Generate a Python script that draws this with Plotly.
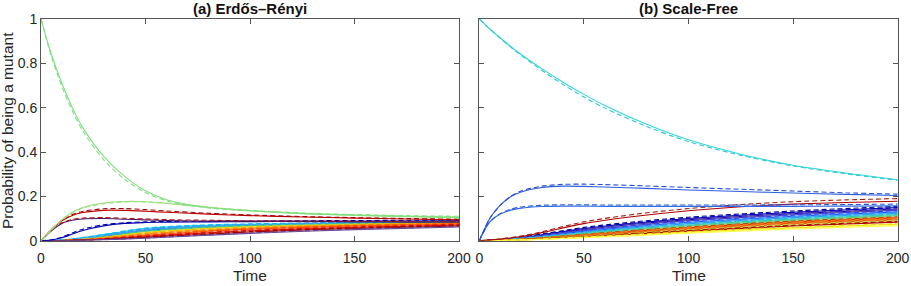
import plotly.graph_objects as go

# ---------------- time grids ----------------
T_FINE = [0, 5, 10, 15, 20, 30, 40, 50, 60, 80, 100, 125, 150, 175, 200]
T_MID = [0, 10, 25, 50, 75, 100, 125, 150, 175, 200]
T_COARSE = [0, 10, 25, 50, 75, 100, 150, 200]

X_TICKS = [0, 50, 100, 150, 200]
Y_TICKS = [0, 0.2, 0.4, 0.6, 0.8, 1]
Y_TICK_LABELS = ["0", "0.2", "0.4", "0.6", "0.8", "1"]

# ---------------- (a) Erdős–Rényi: highlighted nodes (T_FINE) ----------------
ER_DECAY_THEORY = [1.0, 0.84, 0.71, 0.60, 0.51, 0.38, 0.29, 0.225, 0.185, 0.15, 0.135, 0.122, 0.115, 0.11, 0.105]
ER_DECAY_SIM = [1.0, 0.83, 0.695, 0.585, 0.495, 0.365, 0.277, 0.217, 0.18, 0.148, 0.135, 0.124, 0.118, 0.113, 0.11]
ER_HUMPG_THEORY = [0, 0.05, 0.095, 0.128, 0.15, 0.17, 0.177, 0.176, 0.169, 0.151, 0.136, 0.123, 0.114, 0.108, 0.103]
ER_HUMPG_SIM = [0, 0.048, 0.092, 0.125, 0.147, 0.167, 0.175, 0.175, 0.168, 0.151, 0.137, 0.125, 0.117, 0.111, 0.106]
ER_HUMPR_THEORY = [0, 0.05, 0.09, 0.114, 0.127, 0.137, 0.137, 0.133, 0.128, 0.12, 0.113, 0.107, 0.102, 0.098, 0.094]
ER_HUMPR_SIM = [0, 0.05, 0.092, 0.118, 0.132, 0.144, 0.145, 0.14, 0.134, 0.124, 0.116, 0.109, 0.104, 0.1, 0.097]
ER_HUMPD_THEORY = [0, 0.045, 0.078, 0.092, 0.098, 0.1, 0.097, 0.094, 0.091, 0.088, 0.087, 0.086, 0.085, 0.084, 0.083]
ER_HUMPD_SIM = [0, 0.047, 0.081, 0.096, 0.102, 0.104, 0.101, 0.098, 0.095, 0.092, 0.09, 0.089, 0.088, 0.087, 0.086]
ER_BLUE_THEORY = [0, 0.003, 0.013, 0.03, 0.046, 0.067, 0.078, 0.082, 0.084, 0.085, 0.086, 0.087, 0.088, 0.089, 0.09]
ER_BLUE_SIM = [0, 0.004, 0.016, 0.035, 0.052, 0.072, 0.081, 0.085, 0.087, 0.088, 0.089, 0.09, 0.091, 0.092, 0.093]

# ---------------- (a) Erdős–Rényi: remaining nodes (T_COARSE) ----------------
ER_B1_THEORY = [0, 0.002, 0.014, 0.045, 0.06, 0.07, 0.08, 0.086]
ER_B1_SIM = [0, 0.003, 0.016, 0.048, 0.063, 0.072, 0.082, 0.089]
ER_B2_THEORY = [0, 0.003, 0.02, 0.055, 0.068, 0.074, 0.08, 0.084]
ER_B2_SIM = [0, 0.003, 0.021, 0.057, 0.07, 0.076, 0.082, 0.087]
ER_B3_THEORY = [0, 0.002, 0.015, 0.05, 0.064, 0.071, 0.078, 0.083]
ER_B3_SIM = [0, 0.002, 0.016, 0.052, 0.066, 0.073, 0.08, 0.085]
ER_B4_THEORY = [0, 0.002, 0.012, 0.042, 0.058, 0.067, 0.076, 0.082]
ER_B4_SIM = [0, 0.002, 0.013, 0.044, 0.06, 0.069, 0.078, 0.084]
ER_B5_THEORY = [0, 0.001, 0.01, 0.036, 0.052, 0.062, 0.073, 0.08]
ER_B5_SIM = [0, 0.001, 0.011, 0.038, 0.054, 0.064, 0.075, 0.082]
ER_B6_THEORY = [0, 0.001, 0.008, 0.03, 0.046, 0.057, 0.07, 0.078]
ER_B6_SIM = [0, 0.001, 0.009, 0.032, 0.048, 0.059, 0.072, 0.08]
ER_B7_THEORY = [0, 0.001, 0.006, 0.024, 0.04, 0.052, 0.066, 0.075]
ER_B7_SIM = [0, 0.001, 0.007, 0.026, 0.042, 0.054, 0.068, 0.077]
ER_B8_THEORY = [0, 0.001, 0.005, 0.019, 0.033, 0.045, 0.06, 0.071]
ER_B8_SIM = [0, 0.001, 0.006, 0.021, 0.035, 0.047, 0.062, 0.073]
ER_B9_THEORY = [0, 0.0, 0.004, 0.015, 0.027, 0.039, 0.055, 0.066]
ER_B9_SIM = [0, 0.0, 0.005, 0.017, 0.029, 0.041, 0.057, 0.068]
ER_B10_THEORY = [0, 0.0, 0.003, 0.011, 0.022, 0.033, 0.05, 0.062]
ER_B10_SIM = [0, 0.0, 0.003, 0.012, 0.024, 0.035, 0.052, 0.064]

# ---------------- (b) Scale-Free: highlighted nodes (T_FINE) ----------------
SF_DECAY_THEORY = [1.0, 0.955, 0.915, 0.876, 0.84, 0.775, 0.715, 0.66, 0.61, 0.525, 0.455, 0.39, 0.34, 0.305, 0.275]
SF_DECAY_SIM = [1.0, 0.955, 0.913, 0.873, 0.836, 0.768, 0.705, 0.648, 0.598, 0.515, 0.447, 0.385, 0.337, 0.302, 0.272]
SF_HUB1_THEORY = [0, 0.10, 0.16, 0.198, 0.22, 0.24, 0.246, 0.245, 0.242, 0.236, 0.229, 0.222, 0.215, 0.209, 0.204]
SF_HUB1_SIM = [0, 0.10, 0.16, 0.2, 0.224, 0.246, 0.254, 0.255, 0.253, 0.247, 0.24, 0.232, 0.224, 0.216, 0.21]
SF_HUB2_THEORY = [0, 0.085, 0.12, 0.138, 0.147, 0.154, 0.156, 0.156, 0.155, 0.155, 0.155, 0.155, 0.155, 0.156, 0.157]
SF_HUB2_SIM = [0, 0.085, 0.122, 0.142, 0.152, 0.16, 0.162, 0.162, 0.161, 0.161, 0.161, 0.161, 0.162, 0.163, 0.165]

# (b) dark red node (T_MID)
SF_RED_THEORY = [0, 0.007, 0.027, 0.077, 0.11, 0.135, 0.153, 0.165, 0.172, 0.178]
SF_RED_SIM = [0, 0.008, 0.03, 0.085, 0.12, 0.145, 0.163, 0.176, 0.184, 0.19]

# ---------------- (b) Scale-Free: remaining nodes (T_COARSE) ----------------
SF_B1_THEORY = [0, 0.004, 0.02, 0.055, 0.08, 0.1, 0.128, 0.15]
SF_B1_SIM = [0, 0.005, 0.023, 0.06, 0.086, 0.106, 0.134, 0.155]
SF_B2_THEORY = [0, 0.004, 0.018, 0.05, 0.075, 0.095, 0.122, 0.143]
SF_B2_SIM = [0, 0.005, 0.021, 0.055, 0.081, 0.101, 0.128, 0.148]
SF_B3_THEORY = [0, 0.003, 0.016, 0.046, 0.07, 0.09, 0.117, 0.138]
SF_B3_SIM = [0, 0.004, 0.019, 0.051, 0.076, 0.096, 0.123, 0.143]
SF_B4_THEORY = [0, 0.003, 0.015, 0.042, 0.064, 0.083, 0.11, 0.13]
SF_B4_SIM = [0, 0.004, 0.017, 0.046, 0.069, 0.088, 0.115, 0.135]
SF_B5_THEORY = [0, 0.003, 0.013, 0.038, 0.059, 0.077, 0.104, 0.124]
SF_B5_SIM = [0, 0.003, 0.015, 0.041, 0.063, 0.081, 0.108, 0.128]
SF_B6_THEORY = [0, 0.002, 0.012, 0.034, 0.054, 0.071, 0.098, 0.118]
SF_B6_SIM = [0, 0.003, 0.014, 0.037, 0.058, 0.075, 0.102, 0.122]
SF_B7_THEORY = [0, 0.002, 0.011, 0.031, 0.05, 0.066, 0.093, 0.113]
SF_B7_SIM = [0, 0.002, 0.012, 0.034, 0.054, 0.07, 0.097, 0.117]
SF_B8_THEORY = [0, 0.002, 0.01, 0.028, 0.046, 0.062, 0.088, 0.108]
SF_B8_SIM = [0, 0.002, 0.011, 0.031, 0.05, 0.066, 0.092, 0.112]
SF_B9_THEORY = [0, 0.002, 0.009, 0.026, 0.043, 0.058, 0.084, 0.103]
SF_B9_SIM = [0, 0.002, 0.01, 0.029, 0.047, 0.062, 0.088, 0.107]
SF_B10_THEORY = [0, 0.002, 0.008, 0.024, 0.04, 0.055, 0.08, 0.099]
SF_B10_SIM = [0, 0.002, 0.009, 0.027, 0.044, 0.059, 0.084, 0.103]
SF_B11_THEORY = [0, 0.001, 0.007, 0.022, 0.037, 0.051, 0.076, 0.094]
SF_B11_SIM = [0, 0.001, 0.008, 0.024, 0.04, 0.054, 0.079, 0.097]
SF_B12_THEORY = [0, 0.001, 0.006, 0.019, 0.033, 0.047, 0.071, 0.089]
SF_B12_SIM = [0, 0.001, 0.007, 0.021, 0.036, 0.05, 0.074, 0.092]
SF_B13_THEORY = [0, 0.001, 0.006, 0.017, 0.03, 0.043, 0.066, 0.084]
SF_B13_SIM = [0, 0.001, 0.007, 0.019, 0.033, 0.046, 0.069, 0.087]
SF_B14_THEORY = [0, 0.001, 0.005, 0.015, 0.026, 0.038, 0.058, 0.074]
SF_B14_SIM = [0, 0.001, 0.006, 0.017, 0.029, 0.041, 0.061, 0.077]
SF_B15_THEORY = [0, 0.001, 0.004, 0.013, 0.023, 0.034, 0.053, 0.068]
SF_B15_SIM = [0, 0.001, 0.005, 0.015, 0.025, 0.036, 0.055, 0.07]

# ---------------- styles ----------------
ER_BUNDLE_COLORS = ["#1f3fff", "#00c0f0", "#3a9cff", "#3cc8a0", "#e0d000",
                    "#ff9000", "#ff5000", "#e01000", "#a00000", "#6a4a9a"]
SF_BUNDLE_COLORS = ["#00008f", "#0000d0", "#5a3aa0", "#2050ff", "#3090ff",
                    "#20c0e0", "#40c8a0", "#80d060", "#d02000", "#ff8000",
                    "#f05010", "#c0e040", "#b00000", "#f0e000", "#ffff50"]

ER_BUNDLE = [
    (ER_B1_THEORY, ER_B1_SIM), (ER_B2_THEORY, ER_B2_SIM), (ER_B3_THEORY, ER_B3_SIM),
    (ER_B4_THEORY, ER_B4_SIM), (ER_B5_THEORY, ER_B5_SIM), (ER_B6_THEORY, ER_B6_SIM),
    (ER_B7_THEORY, ER_B7_SIM), (ER_B8_THEORY, ER_B8_SIM), (ER_B9_THEORY, ER_B9_SIM),
    (ER_B10_THEORY, ER_B10_SIM),
]
SF_BUNDLE = [
    (SF_B1_THEORY, SF_B1_SIM), (SF_B2_THEORY, SF_B2_SIM), (SF_B3_THEORY, SF_B3_SIM),
    (SF_B4_THEORY, SF_B4_SIM), (SF_B5_THEORY, SF_B5_SIM), (SF_B6_THEORY, SF_B6_SIM),
    (SF_B7_THEORY, SF_B7_SIM), (SF_B8_THEORY, SF_B8_SIM), (SF_B9_THEORY, SF_B9_SIM),
    (SF_B10_THEORY, SF_B10_SIM), (SF_B11_THEORY, SF_B11_SIM), (SF_B12_THEORY, SF_B12_SIM),
    (SF_B13_THEORY, SF_B13_SIM), (SF_B14_THEORY, SF_B14_SIM), (SF_B15_THEORY, SF_B15_SIM),
]

fig = go.Figure()
LW = 1.1
DASH = "5px,3px"


def add_pair(t, solid, dashed, c_solid, c_dash, xa, ya):
    fig.add_trace(go.Scatter(x=t, y=solid, mode="lines", xaxis=xa, yaxis=ya,
                             line=dict(color=c_solid, width=LW, shape="spline", smoothing=0.8),
                             showlegend=False, hoverinfo="skip"))
    fig.add_trace(go.Scatter(x=t, y=dashed, mode="lines", xaxis=xa, yaxis=ya,
                             line=dict(color=c_dash, width=LW, dash=DASH, shape="spline", smoothing=0.8),
                             showlegend=False, hoverinfo="skip"))


# panel (a)
for (th, sim), col in zip(ER_BUNDLE, ER_BUNDLE_COLORS):
    add_pair(T_COARSE, th, sim, col, col, "x", "y")
add_pair(T_FINE, ER_BLUE_THEORY, ER_BLUE_SIM, "#0000b0", "#0000b0", "x", "y")
add_pair(T_FINE, ER_HUMPD_THEORY, ER_HUMPD_SIM, "#3a1a6a", "#b01010", "x", "y")
add_pair(T_FINE, ER_HUMPR_THEORY, ER_HUMPR_SIM, "#c00000", "#a00000", "x", "y")
add_pair(T_FINE, ER_HUMPG_THEORY, ER_HUMPG_SIM, "#9ae07a", "#9ae07a", "x", "y")
add_pair(T_FINE, ER_DECAY_THEORY, ER_DECAY_SIM, "#80de80", "#80de80", "x", "y")

# panel (b)
for (th, sim), col in zip(SF_BUNDLE, SF_BUNDLE_COLORS):
    add_pair(T_COARSE, th, sim, col, col, "x2", "y2")
add_pair(T_MID, SF_RED_THEORY, SF_RED_SIM, "#b00000", "#a02010", "x2", "y2")
add_pair(T_FINE, SF_HUB2_THEORY, SF_HUB2_SIM, "#3068e8", "#2858d8", "x2", "y2")
add_pair(T_FINE, SF_HUB1_THEORY, SF_HUB1_SIM, "#2e5ee0", "#2450d0", "x2", "y2")
add_pair(T_FINE, SF_DECAY_THEORY, SF_DECAY_SIM, "#30d8dc", "#30c8d0", "x2", "y2")

W, H = 911, 286
FONT = "Liberation Sans, Arial, Helvetica, sans-serif"
AX_COL = "#555555"
TXT_COL = "#262626"

x1d = [41 / W, 459 / W]
x2d = [479.3 / W, 897.7 / W]
yd = [1 - 240.7 / H, 1 - 19 / H]

common = dict(showgrid=False, zeroline=False, showline=True, mirror="ticks",
              linecolor=AX_COL, linewidth=1, ticks="inside", ticklen=5,
              tickcolor=AX_COL, tickwidth=1, automargin=False,
              tickfont=dict(family=FONT, size=14, color=TXT_COL))

fig.update_layout(
    width=W, height=H, margin=dict(l=0, r=0, t=0, b=0, pad=0, autoexpand=False),
    paper_bgcolor="white", plot_bgcolor="white",
    xaxis=dict(domain=x1d, range=[0, 200], tickvals=X_TICKS, anchor="y", ticklabelstandoff=4, **common),
    yaxis=dict(domain=yd, range=[0, 1], tickvals=Y_TICKS, ticktext=Y_TICK_LABELS, anchor="x", **common),
    xaxis2=dict(domain=x2d, range=[0, 200], tickvals=X_TICKS, anchor="y2", ticklabelstandoff=4, **common),
    yaxis2=dict(domain=yd, range=[0, 1], tickvals=Y_TICKS, showticklabels=False, anchor="x2", **common),
    annotations=[
        dict(text="<b>(a) Erdős–Rényi</b>", x=(x1d[0] + x1d[1]) / 2, y=1 - 8 / H,
             xref="paper", yref="paper", showarrow=False,
             font=dict(family=FONT, size=15, color="#111111"), xanchor="center", yanchor="middle"),
        dict(text="<b>(b) Scale-Free</b>", x=(x2d[0] + x2d[1]) / 2, y=1 - 8 / H,
             xref="paper", yref="paper", showarrow=False,
             font=dict(family=FONT, size=15, color="#111111"), xanchor="center", yanchor="middle"),
        dict(text="Time", x=(x1d[0] + x1d[1]) / 2, y=1 - 275 / H,
             xref="paper", yref="paper", showarrow=False,
             font=dict(family=FONT, size=15.5, color=TXT_COL), xanchor="center", yanchor="middle"),
        dict(text="Time", x=(x2d[0] + x2d[1]) / 2, y=1 - 275 / H,
             xref="paper", yref="paper", showarrow=False,
             font=dict(family=FONT, size=15.5, color=TXT_COL), xanchor="center", yanchor="middle"),
        dict(text="Probability of being a mutant", x=7 / W, y=1 - 131 / H, textangle=-90,
             xref="paper", yref="paper", showarrow=False,
             font=dict(family=FONT, size=15.5, color=TXT_COL), xanchor="center", yanchor="middle"),
    ],
)

fig.write_html("out.html")
